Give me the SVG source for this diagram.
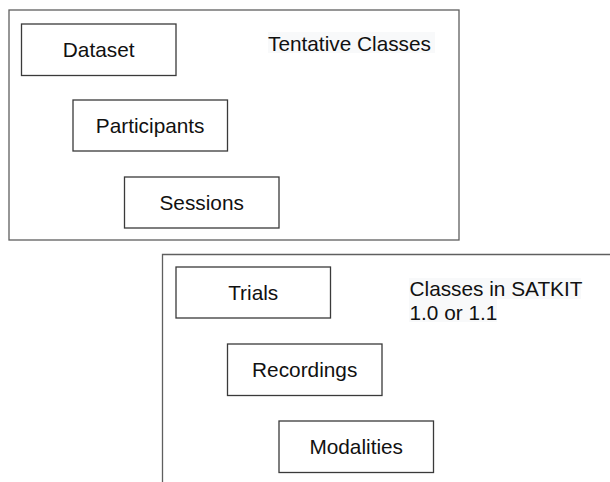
<svg xmlns="http://www.w3.org/2000/svg" width="610" height="482" viewBox="0 0 610 482">
<style>
.frame{fill:none;stroke:#5f5f5f;stroke-width:1.3}
.node{fill:#fff;stroke:#3a3a3a;stroke-width:1.3}
.t{font-family:"Liberation Sans",Arial,sans-serif;font-size:20.8px;fill:#111}
.c{text-anchor:middle}
.lbg{fill:#f8f9fa}
</style>
<rect width="610" height="482" fill="#fff"/>
<g id="tentative-frame">
<rect class="frame" x="9" y="10" width="450" height="230"/>
<rect class="lbg" x="268" y="32" width="167" height="21"/>
<text class="t" x="268" y="50.5">Tentative Classes</text>
</g>
<g id="dataset"><rect class="node" x="21.5" y="24" width="154.5" height="51.5"/><text class="t c" x="98.7" y="57">Dataset</text></g>
<g id="participants"><rect class="node" x="73" y="100" width="154.5" height="51"/><text class="t c" x="150.2" y="133">Participants</text></g>
<g id="sessions"><rect class="node" x="124.5" y="177" width="154.5" height="51"/><text class="t c" x="201.7" y="209.5">Sessions</text></g>
<g id="satkit-frame">
<polyline class="frame" points="162.5,482 162.5,254.5 612,254.5"/>
<rect class="lbg" x="409" y="278" width="172" height="21"/>
<rect class="lbg" x="409" y="299" width="88" height="23"/>
<text class="t" x="409.5" y="296">Classes in SATKIT</text>
<text class="t" x="409.5" y="319.5">1.0 or 1.1</text>
</g>
<g id="trials"><rect class="node" x="176" y="267" width="154.5" height="51"/><text class="t c" x="253.2" y="300">Trials</text></g>
<g id="recordings"><rect class="node" x="227.5" y="344" width="154.5" height="51.5"/><text class="t c" x="304.7" y="377">Recordings</text></g>
<g id="modalities"><rect class="node" x="279" y="421" width="154.5" height="51.5"/><text class="t c" x="356.2" y="454">Modalities</text></g>
<g id="connectors"></g>
</svg>
